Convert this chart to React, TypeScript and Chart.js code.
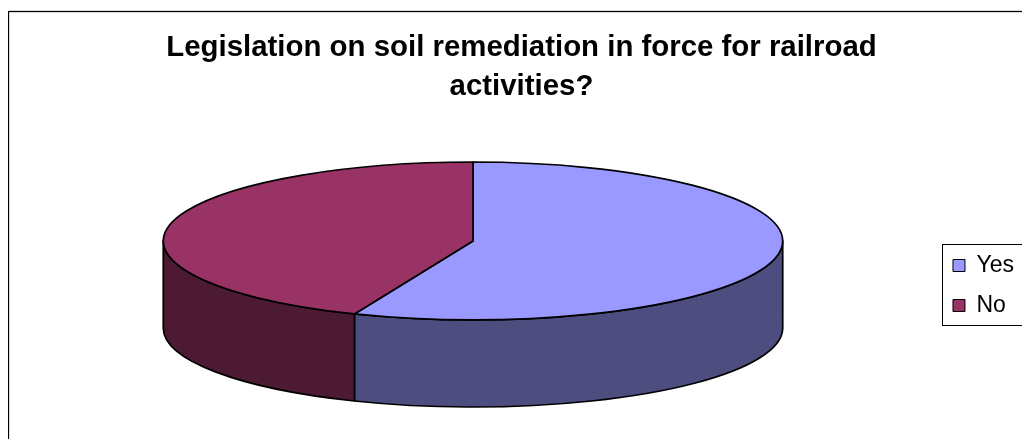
import React, { useEffect, useRef } from 'react';
import { Chart, registerables } from 'chart.js';

Chart.register(...registerables);

const TITLE_LINES = ['Legislation on soil remediation in force for railroad', 'activities?'];
const CATEGORIES = ['Yes', 'No'];
const VALUES = [9, 7];
const TOP_COLORS = ['#9999FF', '#993366'];
const SIDE_COLORS = ['#4D4D80', '#4D1A33'];

const CANVAS_W = 1030;
const CANVAS_H = 431;
const TILT = 0.255; // vertical squash of the pie (ry / rx)
const DEPTH = 0.281; // wall height relative to rx
const X_SHIFT = -4.5; // horizontal nudge of the pie relative to the chart-area centre

const pie3d = {
  id: 'pie3d',
  beforeDraw(chart: any) {
    const ctx = chart.ctx;
    ctx.save();
    ctx.fillStyle = '#ffffff';
    ctx.fillRect(0, 0, chart.width, chart.height);
    ctx.strokeStyle = '#000000';
    ctx.lineWidth = 1.3;
    ctx.strokeRect(0.5, 3.5, chart.width + 20, chart.height + 20);
    ctx.restore();
  },
  beforeDatasetsDraw(chart: any) {
    const ctx = chart.ctx;
    const meta = chart.getDatasetMeta(0);
    const area = chart.chartArea;
    const rx = (area.bottom - area.top) / (2 * TILT + DEPTH);
    const ry = rx * TILT;
    const d = rx * DEPTH;
    const arcs = meta.data as any[];
    if (!arcs.length) return false;
    const cx = arcs[0].x + X_SHIFT;
    const cy = area.top + ry;
    ctx.save();
    ctx.lineJoin = 'round';
    ctx.strokeStyle = '#000000';
    ctx.lineWidth = 1.7;
    // outer walls (front half only)
    arcs.forEach((arc, i) => {
      const s = arc.startAngle;
      const e = arc.endAngle;
      for (let k = -1; k <= 2; k++) {
        const a = Math.max(s, 2 * Math.PI * k);
        const b = Math.min(e, 2 * Math.PI * k + Math.PI);
        if (b > a) {
          ctx.beginPath();
          ctx.ellipse(cx, cy, rx, ry, 0, a, b, false);
          ctx.lineTo(cx + rx * Math.cos(b), cy + ry * Math.sin(b) + d);
          ctx.ellipse(cx, cy + d, rx, ry, 0, b, a, true);
          ctx.closePath();
          ctx.fillStyle = SIDE_COLORS[i % SIDE_COLORS.length];
          ctx.fill();
          ctx.stroke();
        }
      }
    });
    // top faces
    arcs.forEach((arc, i) => {
      ctx.beginPath();
      ctx.moveTo(cx, cy);
      ctx.ellipse(cx, cy, rx, ry, 0, arc.startAngle, arc.endAngle, false);
      ctx.closePath();
      ctx.fillStyle = TOP_COLORS[i % TOP_COLORS.length];
      ctx.fill();
      ctx.stroke();
    });
    ctx.restore();
    return false;
  },
  afterDraw(chart: any) {
    const legend = chart.legend;
    if (!legend || !legend.legendHitBoxes || !legend.legendHitBoxes.length) return;
    const hb = legend.legendHitBoxes;
    const first = hb[0];
    const last = hb[hb.length - 1];
    const ctx = chart.ctx;
    const left = Math.round(first.left - 11) + 0.5;
    const top = Math.round(first.top - 10.5) + 0.5;
    const bottom = Math.round(last.top + last.height + 7.5) + 0.5;
    const right = chart.width + 20;
    ctx.save();
    ctx.strokeStyle = '#000000';
    ctx.lineWidth = 1;
    ctx.strokeRect(left, top, right - left, bottom - top);
    ctx.restore();
  },
};

export default function App() {
  const ref = useRef<HTMLCanvasElement | null>(null);
  useEffect(() => {
    if (!ref.current) return;
    document.documentElement.style.overflow = 'hidden';
    Chart.defaults.font.family = '"Liberation Sans", Arial, sans-serif';
    const chart = new Chart(ref.current, {
      type: 'pie',
      data: {
        labels: CATEGORIES,
        datasets: [
          {
            data: VALUES,
            backgroundColor: TOP_COLORS,
            borderColor: '#000000',
            borderWidth: 1,
          },
        ],
      },
      options: {
        responsive: false,
        animation: false,
        events: [],
        layout: { padding: { left: 11, right: 14, top: 0, bottom: 32 } },
        plugins: {
          title: {
            display: true,
            text: TITLE_LINES,
            color: '#000000',
            font: { size: 29.4, weight: 'bold', lineHeight: 39 / 29.4 },
            padding: { top: 20, bottom: 56 },
          },
          legend: {
            display: true,
            position: 'right',
            title: {
              display: true,
              text: '',
              font: { size: 10, lineHeight: 1 },
              padding: { top: 146, bottom: 0 },
            },
            labels: {
              color: '#000000',
              font: { size: 23 },
              boxWidth: 12,
              boxHeight: 12,
              padding: 17,
            },
          },
          tooltip: { enabled: false },
        },
      },
      plugins: [pie3d],
    } as any);
    return () => chart.destroy();
  }, []);
  return (
    <div
      style={{
        position: 'absolute',
        left: 8,
        top: 8,
        width: 1014,
        height: CANVAS_H,
        overflow: 'hidden',
      }}
    >
      <canvas
        ref={ref}
        width={CANVAS_W}
        height={CANVAS_H}
        style={{ display: 'block', width: CANVAS_W, height: CANVAS_H }}
      />
    </div>
  );
}
